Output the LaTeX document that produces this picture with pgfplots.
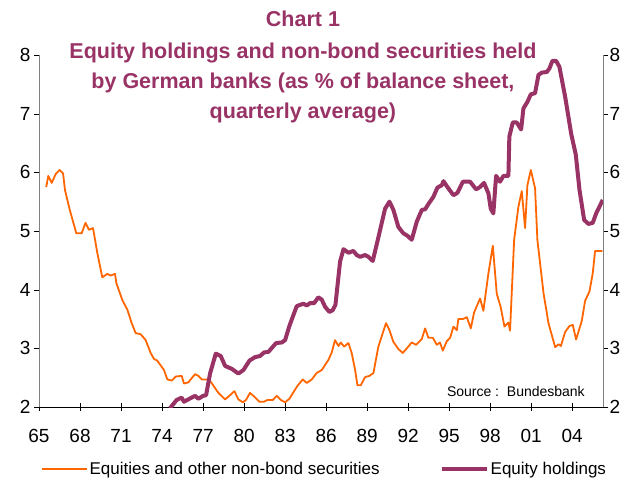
\documentclass[border=0pt]{standalone}
\usepackage{pgfplots}
\pgfplotsset{compat=1.18}
\usepackage{fontspec}
\setmainfont{Liberation Sans}
\definecolor{plum}{HTML}{993366}
\definecolor{orng}{HTML}{FF6600}
\begin{document}
\begin{tikzpicture}
\path[use as bounding box] (0,0) rectangle (631pt,479pt);
\begin{axis}[
  at={(39pt,72pt)}, anchor=south west,
  scale only axis, width=564pt, height=352pt,
  xmin=1965, xmax=2006.25, ymin=2, ymax=8,
  axis x line*=bottom, axis y line*=left,
  y axis line style={draw=gray},
  x axis line style={draw=black},
  ytick=\empty,
  xtick={1965,1968,...,2004},
  xticklabels={65,68,71,74,77,80,83,86,89,92,95,98,01,04},
  minor x tick num=11,
  tick align=inside,
  major tick length=8pt, minor tick length=3.5pt,
  major tick style={black, yshift=-4pt},
  minor tick style={black},
  /pgf/number format/assume math mode=true,
  xticklabel style={font=\fontsize{19}{19}\selectfont, yshift=-19pt},
  title={Chart 1\\[2pt]Equity holdings and non-bond securities held\\by German banks (as \% of balance sheet,\\quarterly average)},
  title style={at={(0.468,1.118)}, anchor=north, align=center, text=plum,
     font=\bfseries\fontsize{21.5}{30}\selectfont},
  legend columns=2,
  legend style={at={(0.506,-0.175)}, anchor=center, draw=none, fill=none,
     font=\fontsize{17}{17}\selectfont,
     /tikz/every even column/.append style={column sep=58pt}},
  legend image code/.code={\draw[#1, line cap=butt] (0pt,0pt) -- (45pt,0pt);},
  clip=true,
]
\addplot[orng, line width=1.8pt, line join=round] coordinates {
(1965.53,5.75) (1965.68,5.94) (1965.93,5.82) (1966.22,5.97) (1966.5,6.04) (1966.76,5.98)
(1966.9,5.70) (1967.25,5.36) (1967.73,4.96) (1968.12,4.96) (1968.4,5.14) (1968.66,5.02)
(1968.95,5.05) (1969.27,4.62) (1969.63,4.21) (1970.0,4.27) (1970.24,4.24) (1970.56,4.27)
(1970.66,4.11) (1971.1,3.82) (1971.46,3.66) (1971.78,3.43) (1972.07,3.26) (1972.44,3.24)
(1972.8,3.14) (1973.17,2.92) (1973.41,2.82) (1973.65,2.79) (1974.14,2.63) (1974.39,2.47)
(1974.71,2.45) (1975.0,2.52) (1975.44,2.53) (1975.6,2.40) (1975.92,2.42) (1976.41,2.56)
(1976.66,2.53) (1976.9,2.47) (1977.27,2.47) (1977.56,2.43) (1978.12,2.24) (1978.61,2.13)
(1978.92,2.19) (1979.29,2.27) (1979.58,2.13) (1979.9,2.08) (1980.14,2.12) (1980.43,2.24)
(1980.68,2.19) (1981.12,2.09) (1981.46,2.09) (1981.7,2.12) (1982.1,2.12) (1982.39,2.19)
(1982.68,2.12) (1983.0,2.08) (1983.31,2.14) (1983.9,2.36) (1984.29,2.47) (1984.58,2.41)
(1984.95,2.47) (1985.31,2.58) (1985.68,2.63) (1986.16,2.80) (1986.41,2.93) (1986.65,3.14)
(1986.9,3.04) (1987.07,3.10) (1987.31,3.03) (1987.63,3.09) (1987.87,2.92) (1988.12,2.63)
(1988.29,2.37) (1988.53,2.37) (1988.85,2.51) (1989.16,2.53) (1989.46,2.58) (1989.82,3.03)
(1990.38,3.43) (1990.63,3.31) (1990.92,3.11) (1991.28,2.99) (1991.6,2.92) (1991.9,3.00)
(1992.26,3.10) (1992.58,3.06) (1993.0,3.16) (1993.24,3.34) (1993.48,3.18) (1993.8,3.18)
(1994.09,3.06) (1994.33,3.10) (1994.53,2.96) (1994.82,3.12) (1995.07,3.18) (1995.31,3.37)
(1995.56,3.31) (1995.67,3.50) (1996.0,3.50) (1996.29,3.53) (1996.58,3.34) (1996.82,3.61)
(1997.26,3.85) (1997.5,3.64) (1997.87,4.28) (1998.19,4.75) (1998.48,3.93) (1998.77,3.70)
(1999.04,3.37) (1999.33,3.44) (1999.45,3.30) (1999.75,4.85) (2000.06,5.41) (2000.31,5.68)
(2000.55,5.05) (2000.72,5.78) (2000.97,6.04) (2001.28,5.73) (2001.45,4.85) (2001.9,3.94)
(2002.26,3.43) (2002.75,3.02) (2002.99,3.07) (2003.17,3.04) (2003.48,3.28) (2003.8,3.38)
(2004.04,3.40) (2004.28,3.15) (2004.7,3.47) (2004.94,3.81) (2005.26,3.97) (2005.5,4.28)
(2005.67,4.66) (2006.2,4.66)
};
\addlegendentry{Equities and other non-bond securities}
\addplot[plum, line width=4pt, line join=round] coordinates {
(1974.58,1.98) (1975.07,2.12) (1975.44,2.16) (1975.6,2.09) (1975.92,2.13) (1976.41,2.19)
(1976.66,2.14) (1977.0,2.19) (1977.22,2.20) (1977.51,2.57) (1977.93,2.91) (1978.29,2.87)
(1978.61,2.70) (1979.1,2.65) (1979.58,2.57) (1979.95,2.63) (1980.39,2.79) (1980.8,2.85)
(1981.17,2.87) (1981.46,2.93) (1981.78,2.94) (1982.34,3.09) (1982.76,3.10) (1983.0,3.14)
(1983.31,3.38) (1983.85,3.72) (1984.34,3.76) (1984.58,3.73) (1984.82,3.77) (1985.12,3.77)
(1985.43,3.87) (1985.68,3.83) (1985.92,3.71) (1986.24,3.62) (1986.48,3.65) (1986.68,3.74)
(1987.02,4.48) (1987.27,4.69) (1987.63,4.63) (1987.99,4.66) (1988.24,4.59) (1988.48,4.56)
(1988.85,4.59) (1989.09,4.56) (1989.41,4.49) (1989.82,4.89) (1990.31,5.38) (1990.63,5.50)
(1990.92,5.36) (1991.28,5.07) (1991.65,4.96) (1991.94,4.92) (1992.26,4.85) (1992.63,5.16)
(1993.0,5.36) (1993.24,5.37) (1993.48,5.46) (1993.84,5.58) (1994.14,5.74) (1994.46,5.78)
(1994.58,5.85) (1994.87,5.75) (1995.31,5.61) (1995.6,5.65) (1996.0,5.84) (1996.53,5.84)
(1996.97,5.71) (1997.26,5.75) (1997.55,5.82) (1997.87,5.64) (1998.04,5.38) (1998.23,5.30)
(1998.43,5.94) (1998.72,5.84) (1998.97,5.94) (1999.33,5.94) (1999.4,6.61) (1999.65,6.85)
(1999.94,6.85) (2000.26,6.73) (2000.43,7.09) (2000.72,7.20) (2000.97,7.33) (2001.28,7.35)
(2001.53,7.66) (2001.77,7.70) (2002.14,7.71) (2002.33,7.77) (2002.55,7.90) (2002.82,7.90)
(2003.06,7.80) (2003.48,7.29) (2003.92,6.66) (2004.26,6.30) (2004.53,5.70) (2004.87,5.19)
(2005.18,5.12) (2005.5,5.14) (2005.75,5.30) (2006.23,5.53)
};
\addlegendentry{Equity holdings}
\node[anchor=base east, inner sep=0pt, font=\fontsize{14}{14}\selectfont] at (rel axis cs:0.968,0.03) {Source :\ \ Bundesbank};
\end{axis}
% left y axis
\begin{axis}[
  at={(39pt,72pt)}, anchor=south west,
  scale only axis, width=564pt, height=352pt,
  xmin=1965, xmax=2006.25, ymin=2, ymax=8,
  axis y line*=left, axis x line=none,
  y axis line style={draw=gray},
  ytick={2,3,...,8}, tick align=outside, major tick length=5pt,
  major tick style={black},
  /pgf/number format/assume math mode=true,
  yticklabel style={font=\fontsize{19}{19}\selectfont},
]
\addplot[draw=none] coordinates {(1970,3)};
\end{axis}
% right y axis
\begin{axis}[
  at={(39pt,72pt)}, anchor=south west,
  scale only axis, width=564pt, height=352pt,
  xmin=1965, xmax=2006.25, ymin=2, ymax=8,
  axis y line*=right, axis x line=none,
  y axis line style={draw=gray},
  ytick={2,3,...,8}, tick align=outside, major tick length=5pt,
  major tick style={black},
  /pgf/number format/assume math mode=true,
  yticklabel style={font=\fontsize{19}{19}\selectfont, xshift=-2pt},
]
\addplot[draw=none] coordinates {(1970,3)};
\end{axis}
\end{tikzpicture}
\end{document}
